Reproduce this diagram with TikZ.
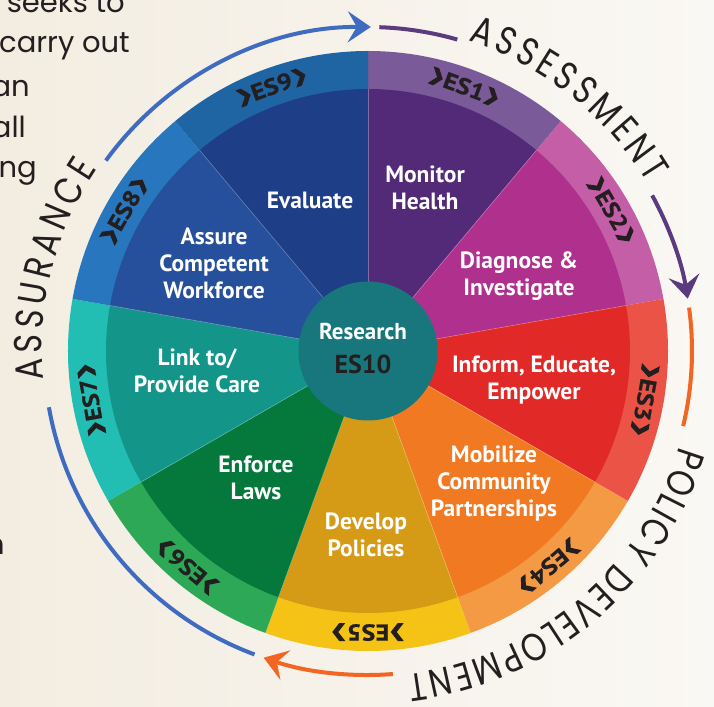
\documentclass[tikz,border=0pt]{standalone}
\usepackage{fontspec}
\setmainfont{PT Sans}
\newfontfamily\popfont{Poppins}
\newfontfamily\titlefont[FakeStretch=0.82]{Poppins}
\newfontfamily\ringfont[FakeStretch=1.14,FakeBold=0.8]{PT Sans}
\usetikzlibrary{decorations.text,arrows.meta}
\definecolor{bgL}{HTML}{F3EDE1}
\definecolor{bgR}{HTML}{FAF8F4}
\definecolor{ink}{HTML}{231F20}
\definecolor{esIa}{HTML}{532A78}\definecolor{esOa}{HTML}{7A5A98}
\definecolor{esIb}{HTML}{B0308E}\definecolor{esOb}{HTML}{C45EA6}
\definecolor{esIc}{HTML}{E12A27}\definecolor{esOc}{HTML}{EB5347}
\definecolor{esId}{HTML}{F07922}\definecolor{esOd}{HTML}{F49A45}
\definecolor{esIe}{HTML}{D59B17}\definecolor{esOe}{HTML}{F5C216}
\definecolor{esIf}{HTML}{05783C}\definecolor{esOf}{HTML}{2CA856}
\definecolor{esIg}{HTML}{14958A}\definecolor{esOg}{HTML}{22BDB3}
\definecolor{esIh}{HTML}{26509B}\definecolor{esOh}{HTML}{2877BE}
\definecolor{esIi}{HTML}{1E3F88}\definecolor{esOi}{HTML}{1F64A3}
\definecolor{hub}{HTML}{18777C}
\definecolor{arcBlue}{HTML}{3F6CC0}
\definecolor{arcPurple}{HTML}{5B3A80}
\definecolor{arcOrange}{HTML}{F26522}
\newcommand{\chv}{\tikz[baseline=0pt,x=1pt,y=1pt]\fill[ink] (0,-1.5) -- (6,-1.5) -- (13,7.5) -- (6,16.5) -- (0,16.5) -- (7,7.5) -- cycle;}
\tikzset{
  wedgetext/.style={text=white, align=center, inner sep=0pt,
    font=\bfseries\fontsize{23.5}{27}\selectfont},
  ringlabel/.style={text=ink, inner sep=0pt,
    font=\ringfont\bfseries\fontsize{23}{23}\selectfont},
  bodytext/.style={text=ink, inner sep=0pt, anchor=base east,
    font=\popfont\fontsize{29}{29}\selectfont},
  cyclearc/.style={line width=4pt},
  cyclehead/.style={-{Stealth[length=23pt,width=31pt,inset=9pt]}},
  titletext/.style={decorate, decoration={text along path, text align=fit to path,
    text color=ink, text={|\titlefont\fontsize{39}{39}\selectfont|#1}}}
}
\begin{document}
\begin{tikzpicture}[x=1pt,y=1pt]
\shade[left color=bgL,right color=bgR] (-368,-355) rectangle (346,351);
\useasboundingbox (-368,-355) rectangle (346,351);

% left body text (cut off)
\node[bodytext] (t1) at (-243,338) {seeks to};
\node[bodytext] (t2) at (-238,298) {carry out};
\node[bodytext] (t3) at (-338,254) {an};
\node[bodytext] (t4) at (-342,213) {all};
\node[bodytext] (t5) at (-331,173) {ng};
\node[bodytext] (t6) at (-363,-203) {n};

% wheel
\foreach \k/\ci/\co in {1/esIa/esOa,2/esIb/esOb,3/esIc/esOc,4/esId/esOd,5/esIe/esOe,6/esIf/esOf,7/esIg/esOg,8/esIh/esOh,9/esIi/esOi}{
  \pgfmathsetmacro\sa{90-40*(\k-1)}
  \pgfmathsetmacro\sb{\sa-40}
  \fill[\co] (0,0) -- (\sa:300) arc[start angle=\sa, end angle=\sb, radius=300] -- cycle;
  \fill[\ci] (0,0) -- (\sa:262) arc[start angle=\sa, end angle=\sb, radius=262] -- cycle;
}
\foreach \k in {1,...,9}{
  \pgfmathsetmacro\sa{90-40*(\k-1)}
  \draw[white, opacity=0.3, line width=0.6pt] (0,0) -- (\sa:262);
}
\fill[hub] (0,0) circle[radius=69.5];

% ring labels
\foreach \k in {1,...,9}{
  \pgfmathsetmacro\m{70-40*(\k-1)}
  \node[ringlabel, rotate=\m-90] (r\k) at (\m:281) {\chv\hspace{1.5pt}ES\k\hspace{1.5pt}\chv};
}

% wedge texts
\node[wedgetext] (w9) at (-58,151) {Evaluate};
\node[wedgetext] (w1) at (57,163) {Monitor\\Health};
\node[wedgetext] (w2) at (151,75) {Diagnose \&\\Investigate};
\node[wedgetext] (w3) at (166,-29) {Inform, Educate,\\Empower};
\node[wedgetext] (w4) at (126,-132) {Mobilize\\Community\\Partnerships};
\node[wedgetext] (w5) at (-2,-184) {Develop\\Policies};
\node[wedgetext] (w6) at (-112,-127) {Enforce\\Laws};
\node[wedgetext] (w7) at (-171,-20) {Link to/\\Provide Care};
\node[wedgetext] (w8) at (-154,88) {Assure\\Competent\\Workforce};
\node[wedgetext, font=\bfseries\fontsize{23}{23}\selectfont] (hub1) at (-5,20) {Research};
\node[wedgetext, text=ink, font=\bfseries\fontsize{26}{26}\selectfont] (hub2) at (-5,-13) {ES10};

% cycle arcs
\draw[arcBlue, cyclearc] (-110.5:324) arc[start angle=-110.5, end angle=-170, radius=324];
\draw[arcBlue, cyclearc, cyclehead] (144:324) arc[start angle=144, end angle=89.5, radius=324];
\draw[arcPurple, cyclearc] (88:324) arc[start angle=88, end angle=74, radius=324];
\draw[arcPurple, cyclearc, cyclehead] (28.7:324) arc[start angle=28.7, end angle=9.3, radius=324];
\draw[arcOrange, cyclearc] (7.7:324) arc[start angle=7.7, end angle=-13.4, radius=324];
\draw[arcOrange, cyclearc, cyclehead] (-85.6:324) arc[start angle=-85.6, end angle=-108.8, radius=324];

% titles along arcs
\path[titletext=ASSESSMENT] (72:326) arc[start angle=72, end angle=31, radius=326];
\path[titletext=POLICY DEVELOPMENT] (-17:326) arc[start angle=-17, end angle=-83, radius=326];
\path[titletext=ASSURANCE] (185:326) arc[start angle=185, end angle=146, radius=326];
\end{tikzpicture}
\end{document}
